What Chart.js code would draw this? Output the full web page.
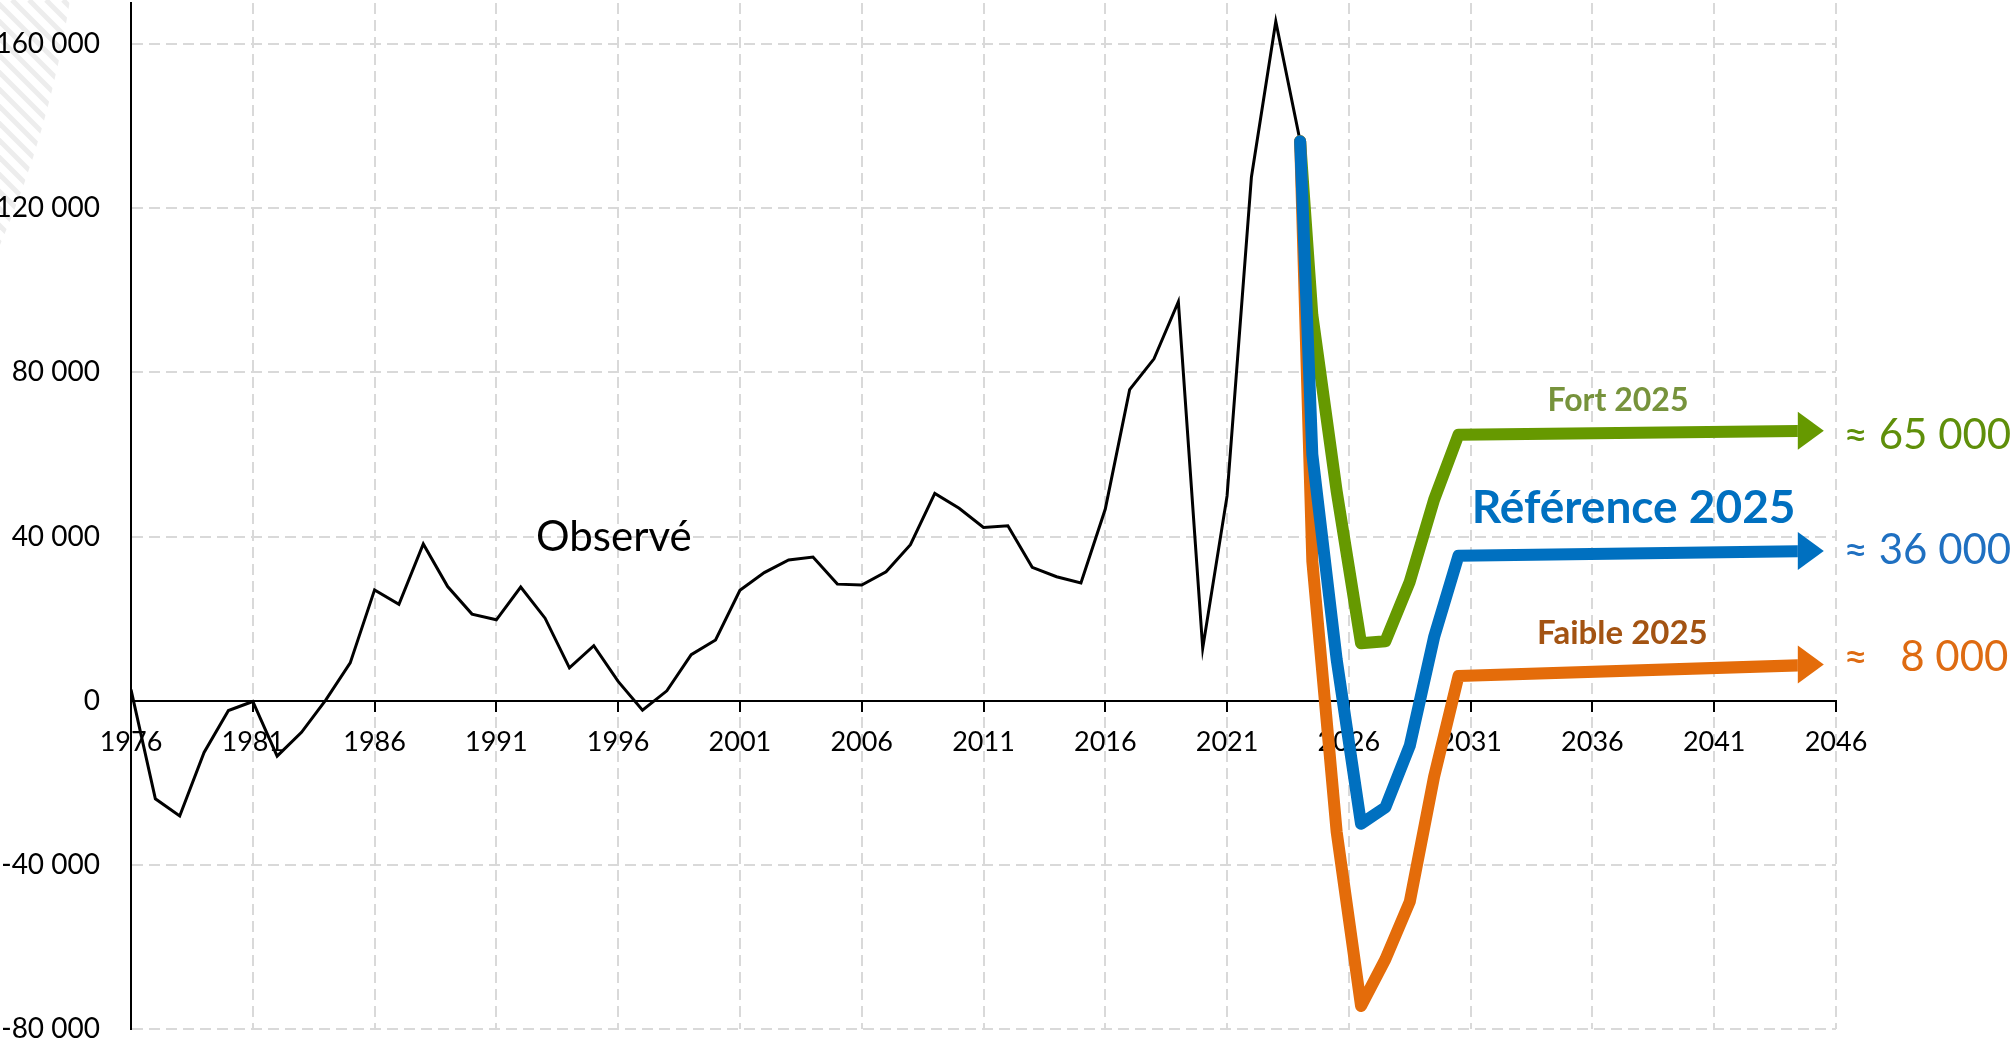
<!DOCTYPE html>
<html>
<head>
<meta charset="utf-8">
<script src="https://cdn.jsdelivr.net/npm/chart.js@4.4.1/dist/chart.umd.min.js"></script>
<style>
  html, body { margin: 0; padding: 0; background: #fff; }
  #chart { display: block; }
</style>
</head>
<body>
<canvas id="chart" width="2016" height="1043"></canvas>
<script>
Chart.defaults.font.family = "Lato";
Chart.defaults.color = "black";

// observed balance, one value per year
const obsYears = [1976, 1977, 1978, 1979, 1980, 1981, 1982, 1983, 1984, 1985,
  1986, 1987, 1988, 1989, 1990, 1991, 1992, 1993, 1994, 1995,
  1996, 1997, 1998, 1999, 2000, 2001, 2002, 2003, 2004, 2005,
  2006, 2007, 2008, 2009, 2010, 2011, 2012, 2013, 2014, 2015,
  2016, 2017, 2018, 2019, 2020, 2021, 2022, 2023, 2024];
const obsValues = [2700, -23900, -28100, -12600, -2400, -200, -13500, -7700, 200, 9200,
  27000, 23500, 38200, 27800, 21100, 19700, 27700, 20100, 8000, 13400,
  4700, -2300, 2400, 11200, 14800, 26900, 31200, 34300, 35000, 28400,
  28200, 31400, 38000, 50500, 46900, 42200, 42600, 32500, 30200, 28700,
  46700, 75800, 83300, 97200, 12800, 49900, 127600, 165500, 136300];

// projections (mid-year points)
const projYears = [2024, 2024.5, 2025.5, 2026.5, 2027.5, 2028.5, 2029.5, 2030.5, 2045.5];
const refValues  = [136300, 60000, 10000, -30000, -26000, -11000, 15500, 35300, 36500];
const highValues = [136300, 94000, 51000, 14000, 14500, 29000, 49000, 64800, 65800];
const lowValues  = [136300, 34000, -32000, -74400, -63000, -49000, -18500, 6000, 8800];

const xTicks = [1976, 1981, 1986, 1991, 1996, 2001, 2006, 2011, 2016, 2021, 2026, 2031, 2036, 2041, 2046];
const yTicks = [-80000, -40000, 0, 40000, 80000, 120000, 160000];

function toPoints(xs, ys) {
  return xs.map((x, i) => ({ x: x, y: ys[i] }));
}

function fmt(v) {
  const s = Math.abs(v).toString().replace(/\B(?=(\d{3})+(?!\d))/g, ' ');
  return (v < 0 ? '-' : '') + s;
}

// text annotations, anchored in data coordinates
const notes = [
  { text: 'Observé', at: [1992.63, 36400], font: '42px Lato', color: '#000', align: 'left' },
  { text: 'Fort 2025', at: [2037.05, 70500], font: 'bold 32px Lato', color: '#77933C', align: 'center' },
  { text: 'Référence 2025', at: [2037.69, 43400], font: 'bold 46px Lato', color: '#0070C0', align: 'center' },
  { text: 'Faible 2025', at: [2037.23, 13800], font: 'bold 33px Lato', color: '#A35312', align: 'center' },
  { text: '≈ 65 000', at: [2046.31, 61300], font: '42px Lato', color: '#5F8F0A', align: 'left' },
  { text: '≈ 36 000', at: [2046.31, 33300], font: '42px Lato', color: '#1F70C1', align: 'left' },
  { text: '≈   8 000', at: [2046.31, 7300], font: '42px Lato', color: '#DE6B12', align: 'left' }
];

const hatchPlugin = {
  id: 'hatch',
  beforeDraw(chart) {
    const ctx = chart.ctx;
    ctx.save();
    ctx.beginPath();
    ctx.moveTo(0, 0);
    ctx.lineTo(70, 0);
    ctx.quadraticCurveTo(50, 130, 0, 245);
    ctx.closePath();
    ctx.clip();
    ctx.strokeStyle = '#EDEDED';
    ctx.lineWidth = 5;
    for (let a = -260; a < 90; a += 17) {
      ctx.beginPath();
      ctx.moveTo(a, 0);
      ctx.lineTo(a + 260, 260);
      ctx.stroke();
    }
    ctx.restore();
  }
};

const arrowPlugin = {
  id: 'arrows',
  beforeDatasetDraw(chart, args) {
    const ds = chart.data.datasets[args.index];
    if (!ds.arrow) return;
    const pts = args.meta.data;
    const tip = pts[pts.length - 1];
    const ctx = chart.ctx;
    ctx.save();
    ctx.beginPath();
    ctx.rect(0, 0, tip.x - 26, chart.height);
    ctx.clip();
  },
  afterDatasetDraw(chart, args) {
    const ds = chart.data.datasets[args.index];
    if (!ds.arrow) return;
    const ctx = chart.ctx;
    ctx.restore();
    const pts = args.meta.data;
    const tip = pts[pts.length - 1];
    ctx.save();
    ctx.fillStyle = ds.borderColor;
    ctx.beginPath();
    ctx.moveTo(tip.x, tip.y);
    ctx.lineTo(tip.x - 26, tip.y - 19);
    ctx.lineTo(tip.x - 26, tip.y + 19);
    ctx.closePath();
    ctx.fill();
    ctx.restore();
  }
};

const labelPlugin = {
  id: 'notes',
  afterDatasetsDraw(chart) {
    const { ctx, scales: { x, y } } = chart;
    ctx.save();
    ctx.textBaseline = 'alphabetic';
    notes.forEach(n => {
      ctx.font = n.font;
      ctx.fillStyle = n.color;
      ctx.textAlign = n.align;
      ctx.fillText(n.text, x.getPixelForValue(n.at[0]), y.getPixelForValue(n.at[1]));
    });
    ctx.restore();
  }
};

const projStyle = {
  borderWidth: 12,
  pointRadius: 0,
  borderCapStyle: 'round',
  borderJoinStyle: 'round',
  arrow: true
};

const myChart = new Chart(document.getElementById('chart'), {
  type: 'line',
  data: {
    datasets: [
      Object.assign({ label: 'Référence 2025', data: toPoints(projYears, refValues), borderColor: '#0070C0' }, projStyle),
      Object.assign({ label: 'Faible 2025', data: toPoints(projYears, lowValues), borderColor: '#E46C0A' }, projStyle),
      Object.assign({ label: 'Fort 2025', data: toPoints(projYears, highValues), borderColor: '#669900' }, projStyle),
      {
        label: 'Observé',
        data: toPoints(obsYears, obsValues),
        borderColor: '#000',
        borderWidth: 3,
        pointRadius: 0
      }
    ]
  },
  options: {
    responsive: false,
    devicePixelRatio: 1,
    animation: false,
    layout: { padding: { left: 0, right: 180, top: 3, bottom: 14 } },
    plugins: {
      legend: { display: false },
      tooltip: { enabled: false }
    },
    scales: {
      x: {
        type: 'linear',
        min: 1976,
        max: 2046,
        position: { y: 0 },
        afterBuildTicks: s => { s.ticks = xTicks.map(v => ({ value: v })); },
        grid: { color: '#D9D9D9', lineWidth: 2, drawTicks: true, tickLength: 10, tickColor: '#000', tickWidth: 2 },
        border: { display: true, color: '#000', width: 2, dash: [11, 6] },
        ticks: { font: { size: 27 }, color: '#000', padding: 15, maxRotation: 0, autoSkip: false, callback: v => String(v) }
      },
      y: {
        type: 'linear',
        min: -80000,
        max: 170000,
        afterBuildTicks: s => { s.ticks = yTicks.map(v => ({ value: v })); },
        afterFit: s => { s.width = 131; s.paddingTop = 0; s.paddingBottom = 0; },
        grid: { color: '#D9D9D9', lineWidth: 2, drawTicks: false },
        border: { display: true, color: '#000', width: 2, dash: [11, 6] },
        ticks: { font: { size: 28 }, color: '#000', padding: 31, callback: v => fmt(v) }
      }
    }
  },
  plugins: [hatchPlugin, arrowPlugin, labelPlugin]
});
</script>
</body>
</html>
